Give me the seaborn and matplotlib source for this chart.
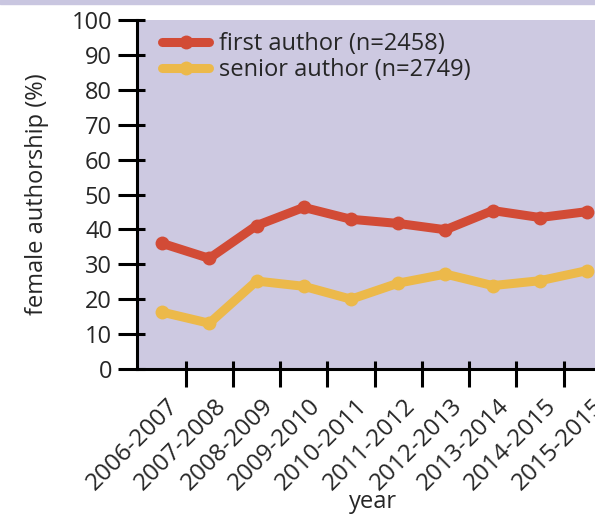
import matplotlib
matplotlib.use("Agg")
import matplotlib.pyplot as plt
import matplotlib.transforms as mtransforms
import seaborn as sns
import pandas as pd
from matplotlib.patches import Rectangle

years = ["2006-2007", "2007-2008", "2008-2009", "2009-2010", "2010-2011",
         "2011-2012", "2012-2013", "2013-2014", "2014-2015", "2015-2015"]
first_author = [36.0, 31.7, 41.1, 46.3, 42.9, 41.7, 39.9, 45.4, 43.4, 45.1]
senior_author = [16.3, 13.1, 25.2, 23.7, 20.0, 24.6, 27.2, 23.9, 25.3, 28.2]
series_names = ["first author (n=2458)", "senior author (n=2749)"]
colors = ["#d24b36", "#ecb94a"]
yticks = [0, 10, 20, 30, 40, 50, 60, 70, 80, 90, 100]

rows = []
for name, vals in zip(series_names, [first_author, senior_author]):
    for i, v in enumerate(vals):
        rows.append({"x": i, "value": v, "series": name})
df = pd.DataFrame(rows)

sns.set_style("ticks")
plt.rcParams["font.family"] = ["Open Sans", "DejaVu Sans"]

fig = plt.figure(figsize=(5.95, 5.18), dpi=100)
W, H = 595, 518
left_px, right_px, top_px, bot_px = 137, 625, 20, 369
ax = fig.add_axes([left_px / W, (H - bot_px) / H, (right_px - left_px) / W, (bot_px - top_px) / H])
ax.set_facecolor("#cdc9e1")

sns.lineplot(data=df, x="x", y="value", hue="series", palette=colors,
             linewidth=6.5, marker="o", markersize=10, markeredgewidth=0,
             ax=ax, legend=True)

ax.set_xlim(-0.53, 9.8)
ax.set_ylim(0, 100)
ax.set_yticks(yticks)
ax.set_yticklabels([str(t) for t in yticks], fontsize=17)
xt = [i + 0.5 for i in range(len(years))]
ax.set_xticks(xt)
ax.set_xticklabels(years, rotation=45, ha="right", rotation_mode="anchor", fontsize=17.5)

# ticks crossing the axes: outer part (major) and inner part (minor)
ax.xaxis.remove_overlapping_locs = False
ax.yaxis.remove_overlapping_locs = False
ax.set_xticks(xt, minor=True)
ax.set_yticks(yticks, minor=True)
ax.tick_params(axis="y", which="major", length=14, width=2.2, direction="out", color="black", pad=4)
ax.tick_params(axis="x", which="major", length=13, width=2.2, direction="out", color="black", pad=2)
ax.tick_params(axis="both", which="minor", length=6, width=2.2, direction="in", color="black")

offset = mtransforms.ScaledTranslation(-19 / 100, -4 / 100, fig.dpi_scale_trans)
for lab in ax.get_xticklabels():
    lab.set_transform(lab.get_transform() + offset)

for s in ["top", "right"]:
    ax.spines[s].set_visible(False)
for s in ["left", "bottom"]:
    ax.spines[s].set_linewidth(2.2)
    ax.spines[s].set_color("black")

ax.set_xlabel("year", fontsize=17)
ax.xaxis.set_label_coords((373 - left_px) / (right_px - left_px), (bot_px - 490) / (bot_px - top_px))
ax.set_ylabel("female authorship (%)", fontsize=17, labelpad=16)

leg = ax.legend(loc="upper left", frameon=False, fontsize=17, handlelength=2.0,
                handletextpad=0.4, labelspacing=0.1, borderaxespad=0.1,
                bbox_to_anchor=(0.027, 1.0))
for line in leg.get_lines():
    line.set_linewidth(6.5)

fig.patches.append(Rectangle((0, 1 - 4 / H), 1, 4 / H, transform=fig.transFigure,
                             color="#c9c6e0", zorder=0))

fig.savefig("out.png", dpi=100)
